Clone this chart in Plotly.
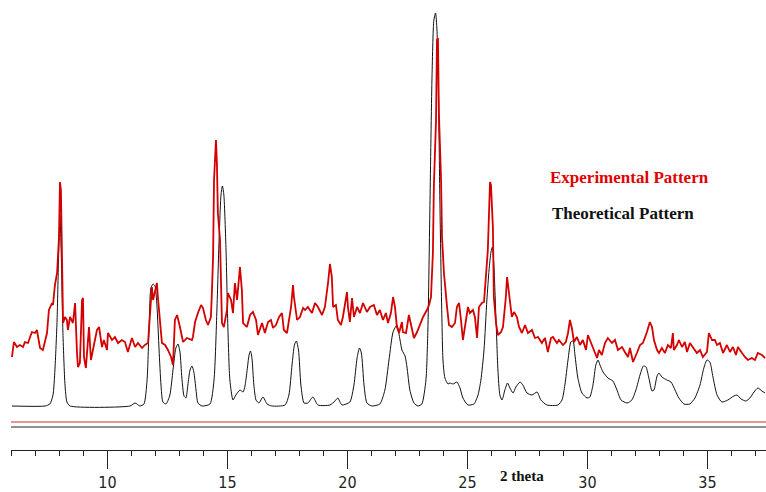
import plotly.graph_objects as go

# Theoretical (calculated) pattern: 2theta, intensity
theo_2theta = [6.02, 7.40, 7.60, 7.73, 7.81, 7.90, 7.96, 8.02, 8.08, 8.14, 8.23, 8.31, 8.44,
               10.94, 11.15, 11.35, 11.52, 11.65, 11.73, 11.81, 11.90, 11.98, 12.06, 12.15, 12.23, 12.31,
               12.44, 12.60, 12.73, 12.85, 12.94, 13.02, 13.10, 13.19, 13.27, 13.35, 13.44, 13.52, 13.60,
               13.69, 13.77, 13.94, 14.27, 14.44, 14.56, 14.65, 14.73, 14.79, 14.85, 14.94, 15.02, 15.10,
               15.23, 15.35, 15.52, 15.65, 15.73, 15.81, 15.90, 15.96, 16.02, 16.10, 16.19, 16.31, 16.48,
               16.65, 16.85, 17.40, 17.56, 17.69, 17.79, 17.87, 17.96, 18.06, 18.19, 18.35, 18.56, 18.77,
               19.27, 19.48, 19.60, 19.77, 20.10, 20.27, 20.40, 20.50, 20.58, 20.69, 20.81, 21.02, 21.35,
               21.56, 21.73, 21.90, 22.06, 22.19, 22.27, 22.40, 22.48, 22.60, 22.77, 22.94, 23.10, 23.27,
               23.35, 23.44, 23.52, 23.60, 23.67, 23.73, 23.79, 23.85, 23.92, 23.98, 24.06, 24.19, 24.27,
               24.40, 24.56, 24.69, 24.81, 25.02, 25.27, 25.44, 25.56, 25.69, 25.81, 25.90, 25.98, 26.04,
               26.10, 26.19, 26.27, 26.35, 26.44, 26.56, 26.67, 26.77, 26.90, 27.02, 27.19, 27.31, 27.48,
               27.69, 27.90, 28.06, 28.31, 28.77, 28.94, 29.06, 29.19, 29.31, 29.40, 29.48, 29.60, 29.77,
               29.98, 30.10, 30.23, 30.35, 30.44, 30.52, 30.65, 30.85, 31.06, 31.23, 31.40, 31.65, 31.85,
               32.02, 32.19, 32.33, 32.44, 32.56, 32.69, 32.77, 32.90, 32.98, 33.10, 33.31, 33.48, 33.65,
               33.81, 34.02, 34.27, 34.48, 34.69, 34.85, 34.98, 35.10, 35.23, 35.40, 35.60, 35.85, 36.10,
               36.23, 36.40, 36.60, 36.77, 36.94, 37.10, 37.27, 37.40]
theo_int = [44, 44, 46, 55, 80, 130, 190, 235, 190, 120, 65, 48, 44,
            44, 47, 44, 46, 70, 120, 162, 166, 164, 145, 100, 65, 48,
            46, 55, 80, 102, 106, 98, 72, 54, 52, 65, 80, 84, 78,
            60, 47, 44, 46, 70, 140, 210, 255, 264, 255, 200, 120, 70,
            50, 55, 60, 58, 64, 78, 95, 99, 92, 65, 50, 47, 53,
            46, 44, 45, 55, 85, 105, 109, 100, 65, 47, 47, 53, 45,
            45, 49, 52, 45, 48, 65, 92, 102, 97, 65, 47, 44, 46,
            60, 90, 118, 125, 110, 100, 94, 83, 60, 47, 44, 46, 70,
            120, 250, 370, 430, 437, 420, 360, 250, 150, 90, 72, 66, 67,
            66, 68, 62, 52, 45, 46, 55, 70, 100, 150, 180, 198, 203,
            185, 130, 80, 55, 50, 60, 67, 62, 57, 63, 68, 65, 57,
            55, 58, 50, 45, 45, 50, 65, 90, 108, 109, 95, 72, 57,
            52, 53, 65, 85, 90, 85, 78, 72, 69, 60, 50, 47, 50,
            60, 75, 84, 83, 72, 59, 60, 74, 77, 73, 70, 68, 60,
            52, 46, 46, 52, 65, 82, 90, 88, 73, 55, 48, 50, 54,
            55, 51, 49, 52, 58, 62, 59, 57]

# Experimental pattern: 2theta, intensity
exp_2theta = [6.02, 6.10, 6.23, 6.35, 6.48, 6.56, 6.69, 6.85, 6.98, 7.06, 7.19, 7.31, 7.48, 7.56,
              7.69, 7.73, 7.81, 7.90, 7.98, 8.02, 8.06, 8.10, 8.15, 8.23, 8.31, 8.35, 8.44, 8.56,
              8.65, 8.73, 8.77, 8.85, 8.94, 8.98, 9.02, 9.10, 9.15, 9.23, 9.31, 9.40, 9.56, 9.65,
              9.77, 9.85, 9.98, 10.02, 10.19, 10.31, 10.44, 10.60, 10.73, 10.85, 11.02, 11.15, 11.27,
              11.44, 11.56, 11.69, 11.77, 11.85, 11.90, 12.06, 12.10, 12.19, 12.27, 12.40, 12.52, 12.65,
              12.73, 12.81, 12.90, 13.02, 13.15, 13.31, 13.52, 13.56, 13.65, 13.77, 13.90, 13.98, 14.10,
              14.19, 14.31, 14.35, 14.40, 14.44, 14.52, 14.56, 14.60, 14.69, 14.73, 14.77, 14.85, 14.98,
              15.02, 15.15, 15.23, 15.31, 15.40, 15.44, 15.52, 15.60, 15.65, 15.81, 15.94, 16.06, 16.19,
              16.27, 16.44, 16.56, 16.69, 16.81, 16.90, 17.02, 17.15, 17.27, 17.35, 17.48, 17.56, 17.65,
              17.73, 17.77, 17.90, 18.02, 18.15, 18.23, 18.35, 18.52, 18.65, 18.77, 18.94, 19.06, 19.19,
              19.27, 19.35, 19.40, 19.52, 19.60, 19.73, 19.81, 19.98, 20.02, 20.10, 20.19, 20.27, 20.40,
              20.52, 20.65, 20.81, 20.94, 21.10, 21.23, 21.35, 21.48, 21.60, 21.69, 21.81, 21.90, 21.98,
              22.06, 22.15, 22.27, 22.31, 22.44, 22.56, 22.69, 22.77, 22.90, 23.02, 23.15, 23.31, 23.40,
              23.48, 23.56, 23.60, 23.69, 23.73, 23.77, 23.81, 23.90, 23.94, 24.02, 24.15, 24.23, 24.35,
              24.48, 24.56, 24.65, 24.73, 24.81, 24.94, 25.02, 25.10, 25.23, 25.31, 25.40, 25.48, 25.60,
              25.69, 25.77, 25.85, 25.94, 25.98, 26.06, 26.10, 26.19, 26.27, 26.40, 26.48, 26.60, 26.65,
              26.73, 26.85, 26.94, 27.06, 27.15, 27.27, 27.40, 27.52, 27.69, 27.81, 27.94, 28.10, 28.23,
              28.35, 28.48, 28.56, 28.73, 28.81, 28.98, 29.10, 29.19, 29.27, 29.35, 29.44, 29.56, 29.69,
              29.81, 29.94, 30.02, 30.15, 30.27, 30.40, 30.48, 30.60, 30.73, 30.85, 31.02, 31.15, 31.27,
              31.44, 31.56, 31.69, 31.77, 31.90, 32.06, 32.19, 32.31, 32.48, 32.60, 32.69, 32.77, 32.90,
              32.98, 33.10, 33.23, 33.35, 33.48, 33.56, 33.60, 33.73, 33.81, 33.94, 34.06, 34.15, 34.27,
              34.40, 34.56, 34.69, 34.81, 34.98, 35.06, 35.19, 35.31, 35.40, 35.52, 35.65, 35.81, 35.94,
              36.06, 36.19, 36.27, 36.44, 36.56, 36.69, 36.85, 36.98, 37.10, 37.27, 37.40]
exp_int = [93, 108, 103, 105, 103, 108, 107, 118, 117, 120, 102, 100, 117, 140,
           147, 145, 165, 177, 213, 268, 260, 213, 127, 133, 130, 120, 133, 127,
           147, 97, 83, 87, 150, 152, 93, 82, 100, 123, 90, 100, 120, 123,
           103, 110, 100, 117, 110, 113, 107, 110, 108, 98, 112, 103, 107,
           102, 105, 107, 133, 163, 150, 167, 153, 127, 107, 105, 100, 93,
           85, 130, 135, 123, 108, 112, 110, 113, 128, 137, 145, 142, 130,
           125, 133, 157, 193, 270, 310, 287, 237, 210, 160, 127, 123, 140,
           157, 150, 137, 167, 150, 163, 183, 160, 127, 123, 135, 138, 130,
           115, 127, 117, 128, 130, 122, 125, 133, 137, 120, 117, 130, 143,
           165, 153, 130, 133, 142, 140, 143, 137, 147, 143, 135, 143, 167,
           186, 173, 143, 145, 130, 125, 133, 158, 143, 128, 152, 133, 143,
           137, 147, 138, 143, 145, 135, 140, 130, 137, 127, 137, 153, 143,
           123, 117, 128, 118, 117, 135, 122, 112, 118, 125, 133, 140, 145,
           153, 197, 263, 330, 410, 412, 337, 270, 213, 177, 143, 125, 123,
           127, 143, 147, 130, 110, 130, 143, 137, 140, 133, 112, 143, 147,
           148, 170, 200, 268, 265, 223, 153, 127, 115, 118, 123, 153, 173,
           157, 133, 138, 133, 123, 117, 125, 117, 120, 112, 113, 107, 112,
           98, 112, 113, 107, 110, 105, 108, 117, 130, 122, 108, 113, 105,
           110, 100, 115, 107, 98, 92, 100, 95, 107, 112, 107, 110, 100,
           103, 98, 93, 102, 88, 97, 105, 107, 118, 128, 123, 110, 100,
           97, 102, 97, 105, 102, 117, 100, 105, 110, 103, 108, 98, 107,
           102, 97, 100, 93, 98, 117, 110, 110, 105, 107, 97, 105, 98,
           103, 95, 103, 97, 93, 90, 92, 90, 97, 95, 92]

major_ticks = [10, 15, 20, 25, 30, 35]
major_labels = ["10", "15", "20", "25", "30", "35"]
exp_baseline = 28
theo_baseline = 23
x_range = [5.98, 37.44]

fig = go.Figure()
fig.add_trace(go.Scatter(x=theo_2theta, y=theo_int, mode="lines",
                         line=dict(color="#111111", width=1, shape="spline", smoothing=0.6),
                         name="Theoretical Pattern", showlegend=False))
fig.add_trace(go.Scatter(x=exp_2theta, y=exp_int, mode="lines",
                         line=dict(color="#d40000", width=1.8),
                         name="Experimental Pattern", showlegend=False))
fig.add_trace(go.Scatter(x=x_range, y=[exp_baseline, exp_baseline], mode="lines",
                         line=dict(color="#c83030", width=1.2), showlegend=False, hoverinfo="skip"))
fig.add_trace(go.Scatter(x=x_range, y=[theo_baseline, theo_baseline], mode="lines",
                         line=dict(color="#222222", width=1.2), showlegend=False, hoverinfo="skip"))

fig.add_annotation(x=28.35, y=273, xref="x", yref="y", text="<b>Experimental Pattern</b>",
                   showarrow=False, xanchor="left", yanchor="middle",
                   font=dict(family="Liberation Serif, Times New Roman, serif", size=17, color="#e00000"))
fig.add_annotation(x=28.43, y=237, xref="x", yref="y", text="<b>Theoretical Pattern</b>",
                   showarrow=False, xanchor="left", yanchor="middle",
                   font=dict(family="Liberation Serif, Times New Roman, serif", size=17, color="#111111"))
fig.add_annotation(x=27.27, y=-0.058, xref="x", yref="paper", text="<b>2 theta</b>",
                   showarrow=False, xanchor="center", yanchor="middle",
                   font=dict(family="Liberation Serif, Times New Roman, serif", size=15, color="#111111"))

fig.update_xaxes(range=x_range, showline=True, linecolor="#222222", linewidth=1,
                 showgrid=False, zeroline=False,
                 tickmode="array", tickvals=major_ticks, ticktext=major_labels,
                 ticks="outside", ticklen=18, tickcolor="#222222", tickwidth=1,
                 tickfont=dict(family="Liberation Sans Narrow, Arial Narrow, DejaVu Sans Condensed, sans-serif",
                               size=16, color="#222222"),
                 minor=dict(dtick=1, tick0=0, ticks="outside", ticklen=5, tickcolor="#222222", tickwidth=1))
fig.update_yaxes(range=[0, 450], visible=False, showgrid=False, zeroline=False)

fig.update_layout(width=766, height=492, margin=dict(l=11, r=0, t=0, b=42),
                  paper_bgcolor="white", plot_bgcolor="white", hovermode=False)

fig.write_html("out.html")
